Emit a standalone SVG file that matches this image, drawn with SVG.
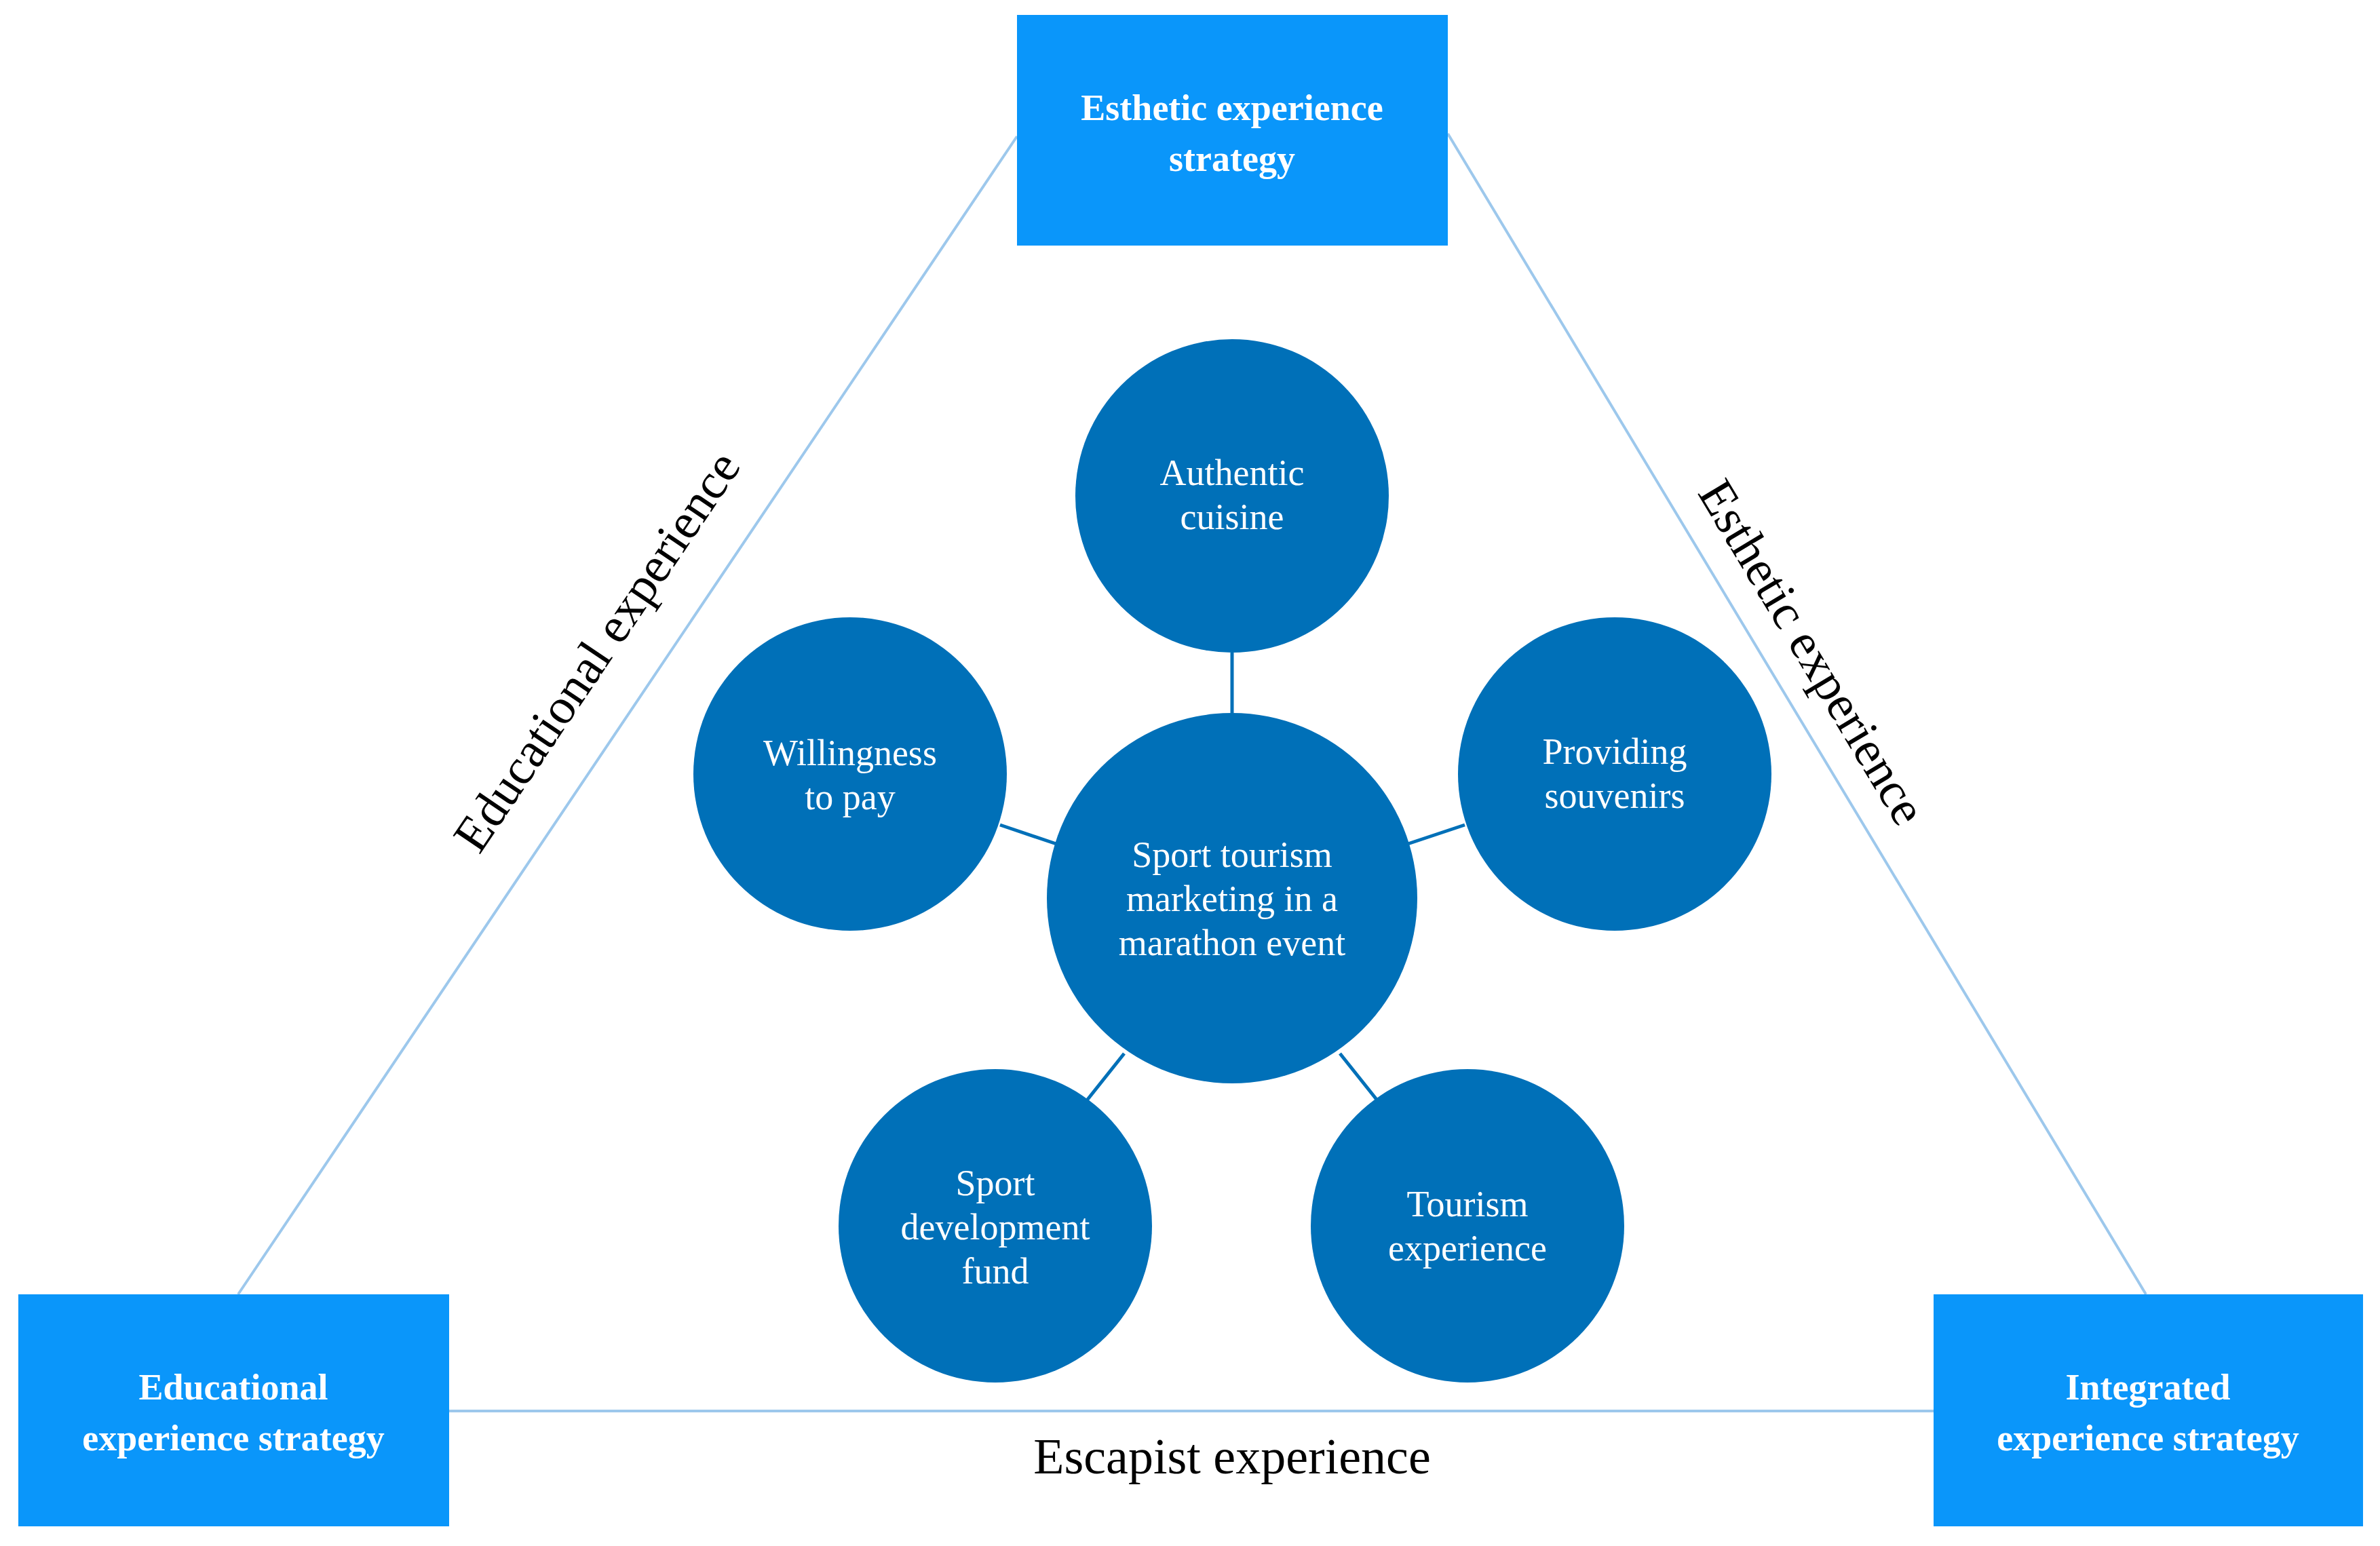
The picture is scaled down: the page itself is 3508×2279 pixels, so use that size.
<svg xmlns="http://www.w3.org/2000/svg" width="3508" height="2279" viewBox="0 0 3508 2279">
<style>
.box{fill:#0a96fa}
.bt{font-family:"Liberation Serif",serif;font-weight:bold;font-size:54px;fill:#fff;text-anchor:middle}
.c{fill:#0070b8}
.ct{font-family:"Liberation Serif",serif;font-size:54px;fill:#fff;text-anchor:middle}
.side{font-family:"Liberation Serif",serif;font-size:74px;fill:#000;text-anchor:middle}
.tl{stroke:#9dc8ec;stroke-width:4;fill:none}
.cl{stroke:#0070b8;stroke-width:5}
</style>
<rect width="3508" height="2279" fill="#fff"/>
<g id="connectors">
<line class="tl" x1="1499" y1="201" x2="351" y2="1908"/>
<line class="tl" x1="2134" y1="197" x2="3163" y2="1908"/>
<line class="tl" x1="662" y1="2080" x2="2850" y2="2080"/>
<line class="cl" x1="1816" y1="962" x2="1816" y2="1051"/>
<line class="cl" x1="1474" y1="1216" x2="1557" y2="1244"/>
<line class="cl" x1="2159" y1="1216" x2="2075" y2="1244"/>
<line class="cl" x1="1602" y1="1622" x2="1657" y2="1553"/>
<line class="cl" x1="2030" y1="1622" x2="1975" y2="1553"/>
</g>
<g id="top"><rect class="box" x="1499" y="22" width="635" height="340"/>
<text class="bt" x="1816" y="177">Esthetic experience</text><text class="bt" x="1816" y="252">strategy</text></g>
<g id="left"><rect class="box" x="27" y="1908" width="635" height="342"/>
<text class="bt" x="344" y="2063">Educational</text><text class="bt" x="344" y="2138">experience strategy</text></g>
<g id="right"><rect class="box" x="2850" y="1908" width="633" height="342"/>
<text class="bt" x="3166" y="2063">Integrated</text><text class="bt" x="3166" y="2138">experience strategy</text></g>
<g id="center"><circle class="c" cx="1816" cy="1324" r="273"/>
<text class="ct" x="1816" y="1278">Sport tourism</text><text class="ct" x="1816" y="1343">marketing in a</text><text class="ct" x="1816" y="1408">marathon event</text></g>
<g id="authentic"><circle class="c" cx="1816" cy="731" r="231"/>
<text class="ct" x="1816" y="715">Authentic</text><text class="ct" x="1816" y="780">cuisine</text></g>
<g id="willingness"><circle class="c" cx="1253" cy="1141" r="231"/>
<text class="ct" x="1253" y="1128">Willingness</text><text class="ct" x="1253" y="1193">to pay</text></g>
<g id="souvenirs"><circle class="c" cx="2380" cy="1141" r="231"/>
<text class="ct" x="2380" y="1126">Providing</text><text class="ct" x="2380" y="1191">souvenirs</text></g>
<g id="fund"><circle class="c" cx="1467" cy="1807" r="231"/>
<text class="ct" x="1467" y="1762">Sport</text><text class="ct" x="1467" y="1827">development</text><text class="ct" x="1467" y="1892">fund</text></g>
<g id="tourism"><circle class="c" cx="2163" cy="1807" r="231"/>
<text class="ct" x="2163" y="1793">Tourism</text><text class="ct" x="2163" y="1858">experience</text></g>
<g id="labels">
<text class="side" transform="translate(900,974) rotate(-56)">Educational experience</text>
<text class="side" transform="translate(2650,974) rotate(59)">Esthetic experience</text>
<text class="side" x="1816" y="2172">Escapist experience</text>
</g>
</svg>
